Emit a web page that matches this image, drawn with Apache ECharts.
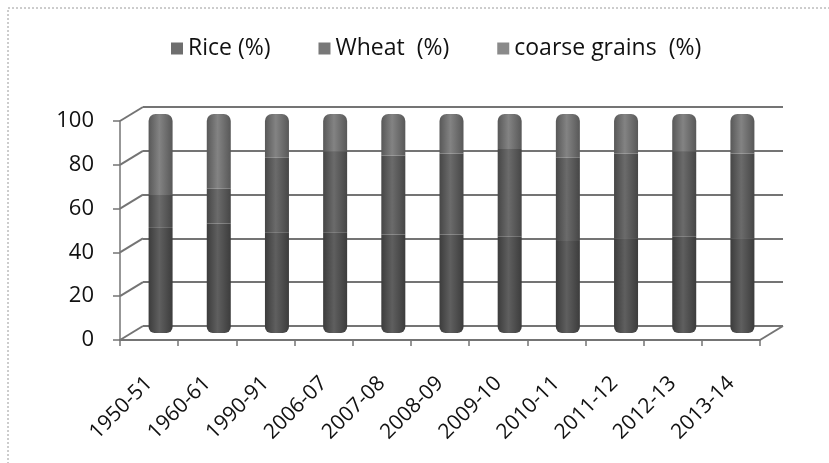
<!DOCTYPE html>
<html>
<head>
<meta charset="utf-8">
<script src="https://cdn.jsdelivr.net/npm/echarts@6/dist/echarts.min.js"></script>
<style>
  html, body { margin: 0; padding: 0; background: #fff; }
  #main { width: 829px; height: 463px; }
</style>
</head>
<body>
<div id="main"></div>
<script>
var categories = ['1950-51', '1960-61', '1990-91', '2006-07', '2007-08', '2008-09',
                  '2009-10', '2010-11', '2011-12', '2012-13', '2013-14'];
var rice   = [48, 50, 46, 46, 45, 45, 44, 42, 43, 44, 43];
var wheat  = [15, 16, 34, 37, 36, 37, 40, 38, 39, 39, 39];
var coarse = [37, 34, 20, 17, 19, 18, 16, 20, 18, 17, 18];
var yTicks = [0, 20, 40, 60, 80, 100];

// depth of the fake 3d box
var DX = 23, DY = 14;
var FONT = 'Open Sans';

function cyl(c1, c2) {
    return new echarts.graphic.LinearGradient(0, 0, 1, 0, [
        { offset: 0, color: c1 },
        { offset: 0.45, color: c2 },
        { offset: 1, color: c1 }
    ]);
}

var lineColor = '#747474';

function hiddenAxis(i) {
    return {
        gridIndex: i, type: 'category', data: categories,
        axisLine: { show: false }, axisTick: { show: false },
        axisLabel: { show: false }, splitLine: { show: false }
    };
}

var option = {
    backgroundColor: '#fff',
    animation: false,
    graphic: [{
        type: 'rect',
        shape: { x: 8, y: 8, width: 840, height: 480 },
        style: { fill: 'none', stroke: '#9a9a9a', lineWidth: 1, lineDash: [2, 2] },
        z: -1
    }],
    legend: {
        top: 32,
        left: 166,
        icon: 'rect',
        itemWidth: 12,
        itemHeight: 12,
        itemGap: 48,
        textStyle: { fontFamily: FONT, fontSize: 23, color: '#111' },
        data: [
            { name: 'Rice (%)', itemStyle: { color: '#6e6e6e' } },
            { name: 'Wheat  (%)', itemStyle: { color: '#787878' } },
            { name: 'coarse grains  (%)', itemStyle: { color: '#8a8a8a' } }
        ]
    },
    grid: [
        // back wall
        { left: 120 + DX, top: 121 - DY, width: 640, height: 219 },
        // bars sit half way in
        { left: 120 + DX / 2, top: 121 - DY / 2, width: 640, height: 219 },
        // front edge with labels
        { left: 120, top: 121, width: 640, height: 219 }
    ],
    xAxis: [
        hiddenAxis(0),
        hiddenAxis(1),
        {
            gridIndex: 2, type: 'category', data: categories,
            axisLine: { show: true, lineStyle: { color: lineColor, width: 2 } },
            axisTick: { show: true, length: 6, lineStyle: { color: lineColor, width: 1.5 } },
            axisLabel: {
                rotate: 45, margin: 40, interval: 0,
                fontFamily: FONT, fontSize: 21, color: '#111'
            },
            splitLine: { show: false }
        }
    ],
    yAxis: [
        {
            gridIndex: 0, type: 'value', min: 0, max: 100, interval: 20,
            axisLine: { show: false }, axisTick: { show: false }, axisLabel: { show: false },
            splitLine: { show: true, lineStyle: { color: lineColor, width: 2 } }
        },
        {
            gridIndex: 1, type: 'value', min: 0, max: 100, interval: 20,
            axisLine: { show: false }, axisTick: { show: false }, axisLabel: { show: false },
            splitLine: { show: false }
        },
        {
            gridIndex: 2, type: 'value', min: 0, max: 100, interval: 20,
            axisLine: { show: true, lineStyle: { color: lineColor, width: 1.5 } },
            axisTick: { show: true, length: 7, lineStyle: { color: lineColor, width: 1.5 } },
            axisLabel: { margin: 26, fontFamily: FONT, fontSize: 22, color: '#111' },
            splitLine: { show: false }
        }
    ],
    series: [
        {
            // slanted wall / floor edges, from front axis back to the wall
            type: 'custom',
            xAxisIndex: 2, yAxisIndex: 2,
            data: yTicks.map(function (v) { return [0, v]; }),
            silent: true,
            z: 1,
            renderItem: function (params, api) {
                var cs = params.coordSys;
                var v = api.value(1);
                var y = api.coord([0, v])[1];
                var children = [{
                    type: 'line',
                    shape: { x1: cs.x, y1: y, x2: cs.x + DX, y2: y - DY },
                    style: { stroke: lineColor, lineWidth: 2 }
                }];
                if (v === 0) {
                    children.push({
                        type: 'line',
                        shape: { x1: cs.x + cs.width, y1: y, x2: cs.x + cs.width + DX, y2: y - DY },
                        style: { stroke: lineColor, lineWidth: 2 }
                    });
                }
                return { type: 'group', children: children };
            }
        },
        {
            name: 'Rice (%)', type: 'bar', stack: 'g',
            xAxisIndex: 1, yAxisIndex: 1, barWidth: 24, z: 3,
            itemStyle: { color: cyl('#3c3c3c', '#5f5f5f'), borderRadius: [0, 0, 6, 6] },
            data: rice
        },
        {
            name: 'Wheat  (%)', type: 'bar', stack: 'g',
            xAxisIndex: 1, yAxisIndex: 1, barWidth: 24, z: 3,
            itemStyle: { color: cyl('#464646', '#6b6b6b') },
            data: wheat
        },
        {
            name: 'coarse grains  (%)', type: 'bar', stack: 'g',
            xAxisIndex: 1, yAxisIndex: 1, barWidth: 24, z: 3,
            itemStyle: { color: cyl('#585858', '#838383'), borderRadius: [7, 7, 0, 0] },
            data: coarse
        }
    ]
};

var myChart = echarts.init(document.getElementById('main'));
myChart.setOption(option);
</script>
</body>
</html>
